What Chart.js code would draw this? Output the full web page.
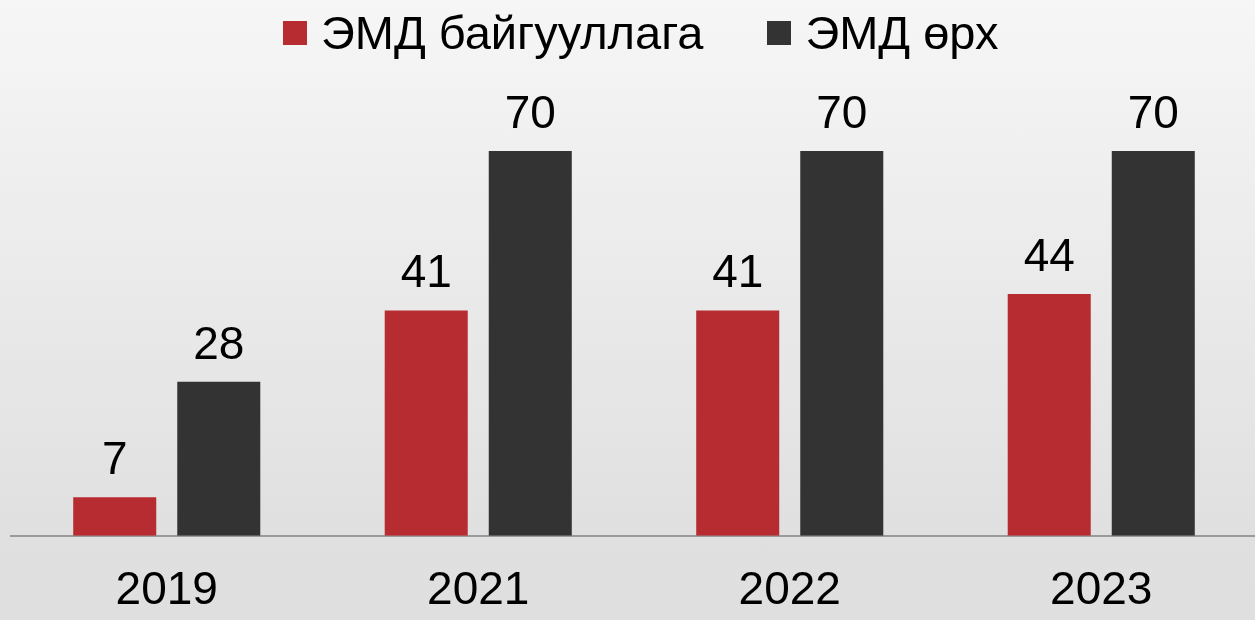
<!DOCTYPE html>
<html>
<head>
<meta charset="utf-8">
<script src="https://cdn.jsdelivr.net/npm/chart.js@4/dist/chart.umd.min.js"></script>
<style>
  html, body { margin: 0; padding: 0; overflow: hidden; }
  body {
    width: 1255px; height: 620px;
    background: linear-gradient(to bottom, #f6f6f6 0%, #e9e9e9 50%, #e0e0e0 86%, #dfdfdf 100%);
    font-family: Arial, "Liberation Sans", sans-serif;
    position: relative;
  }
  #wrap { position: absolute; left: 0; top: 0; width: 1257px; height: 649px; }
  #legend {
    position: absolute; left: 283px; top: 9px;
    display: flex; align-items: center; white-space: nowrap;
    font-size: 47px; line-height: 48px; color: #000;
  }
  .item { display: flex; align-items: center; }
  .item + .item { margin-left: 64px; }
  .box { width: 24px; height: 24px; margin-right: 14px; }
</style>
</head>
<body>
<div id="wrap"><canvas id="chart"></canvas></div>
<div id="legend"></div>
<script>
// Years on the x axis
const years = ['2019', '2021', '2022', '2023'];
// Series names
const seriesNames = ['ЭМД байгууллага', 'ЭМД өрх'];
// Counts per year
const orgCounts = [7, 41, 41, 44];
const householdCounts = [28, 70, 70, 70];
// Series colours
const seriesColors = ['#b72c31', '#333333'];

const FONT = 'Arial, "Liberation Sans", sans-serif';

// Value labels above each bar
const barValueLabels = {
  id: 'barValueLabels',
  afterDatasetsDraw(chart) {
    const ctx = chart.ctx;
    ctx.save();
    ctx.font = '46px ' + FONT;
    ctx.fillStyle = '#000';
    ctx.textAlign = 'center';
    ctx.textBaseline = 'alphabetic';
    chart.data.datasets.forEach((ds, di) => {
      chart.getDatasetMeta(di).data.forEach((bar, i) => {
        ctx.fillText(String(ds.data[i]), bar.x, bar.y - 23);
      });
    });
    ctx.restore();
  }
};

const chart = new Chart(document.getElementById('chart'), {
  type: 'bar',
  data: {
    labels: years,
    datasets: [
      { label: seriesNames[0], data: orgCounts, backgroundColor: seriesColors[0] },
      { label: seriesNames[1], data: householdCounts, backgroundColor: seriesColors[1] }
    ]
  },
  options: {
    responsive: true,
    maintainAspectRatio: false,
    animation: false,
    categoryPercentage: 0.668,
    barPercentage: 0.798,
    layout: { padding: { left: 11, right: 0, top: 96, bottom: 2 } },
    plugins: {
      legend: { display: false },
      tooltip: { enabled: false }
    },
    scales: {
      x: {
        grid: { display: false, drawTicks: false },
        border: { display: true, color: '#9a9a9a', width: 2 },
        ticks: { color: '#000', font: { family: FONT, size: 46 }, padding: 28 }
      },
      y: {
        display: false,
        min: 0,
        max: 80
      }
    }
  },
  plugins: [barValueLabels]
});

// Legend row built from the chart's datasets
const legendEl = document.getElementById('legend');
chart.data.datasets.forEach(ds => {
  const item = document.createElement('div');
  item.className = 'item';
  const box = document.createElement('span');
  box.className = 'box';
  box.style.background = ds.backgroundColor;
  const txt = document.createElement('span');
  txt.textContent = ds.label;
  item.appendChild(box);
  item.appendChild(txt);
  legendEl.appendChild(item);
});
</script>
</body>
</html>
